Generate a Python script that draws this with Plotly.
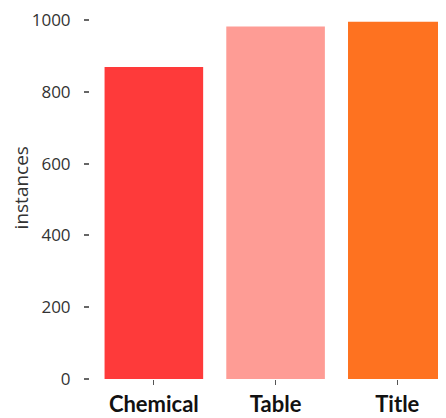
import plotly.graph_objects as go

categories = ["Chemical", "Table", "Title"]
values = [869, 982, 995]
colors = ["#fe3a3a", "#fe9c95", "#fe7220"]
y_ticks = [0, 200, 400, 600, 800, 1000]
y_title = "instances"

fig = go.Figure(go.Bar(x=categories, y=values, marker_color=colors,
                       marker_line_width=0, width=0.81))

# the page body adds an 8px offset, so the figure is sized to fit the window
fig.update_layout(
    width=438, height=410,
    margin=dict(l=81, r=0, t=0, b=39),
    plot_bgcolor="white", paper_bgcolor="white",
    showlegend=False,
    font=dict(family="Open Sans", color="#333333"),
)
fig.update_xaxes(
    domain=[4 / 357, 1],
    range=[-0.5, 2.4], showgrid=False, zeroline=False, showline=False,
    ticks="outside", ticklen=5, tickwidth=1, tickcolor="#555555",
    tickfont=dict(family="Lato", size=22, color="#111111", weight="bold"),
    ticklabelstandoff=1,
)
fig.update_yaxes(
    anchor="free", position=0,
    range=[0, 1028], tickvals=y_ticks, showgrid=False, zeroline=False, showline=False,
    ticks="outside", ticklen=5, tickwidth=1.5, tickcolor="#666666",
    tickfont=dict(size=17, color="#333333"),
    ticklabelstandoff=10, ticklabeloverflow="allow",
)
fig.add_annotation(
    text=y_title, xref="paper", yref="paper", x=-0.19, y=0.517,
    xanchor="center", yanchor="middle", textangle=-90, showarrow=False,
    borderpad=0,
    font=dict(family="Open Sans", size=19, color="#333333"),
)

fig.write_html("out.html")
